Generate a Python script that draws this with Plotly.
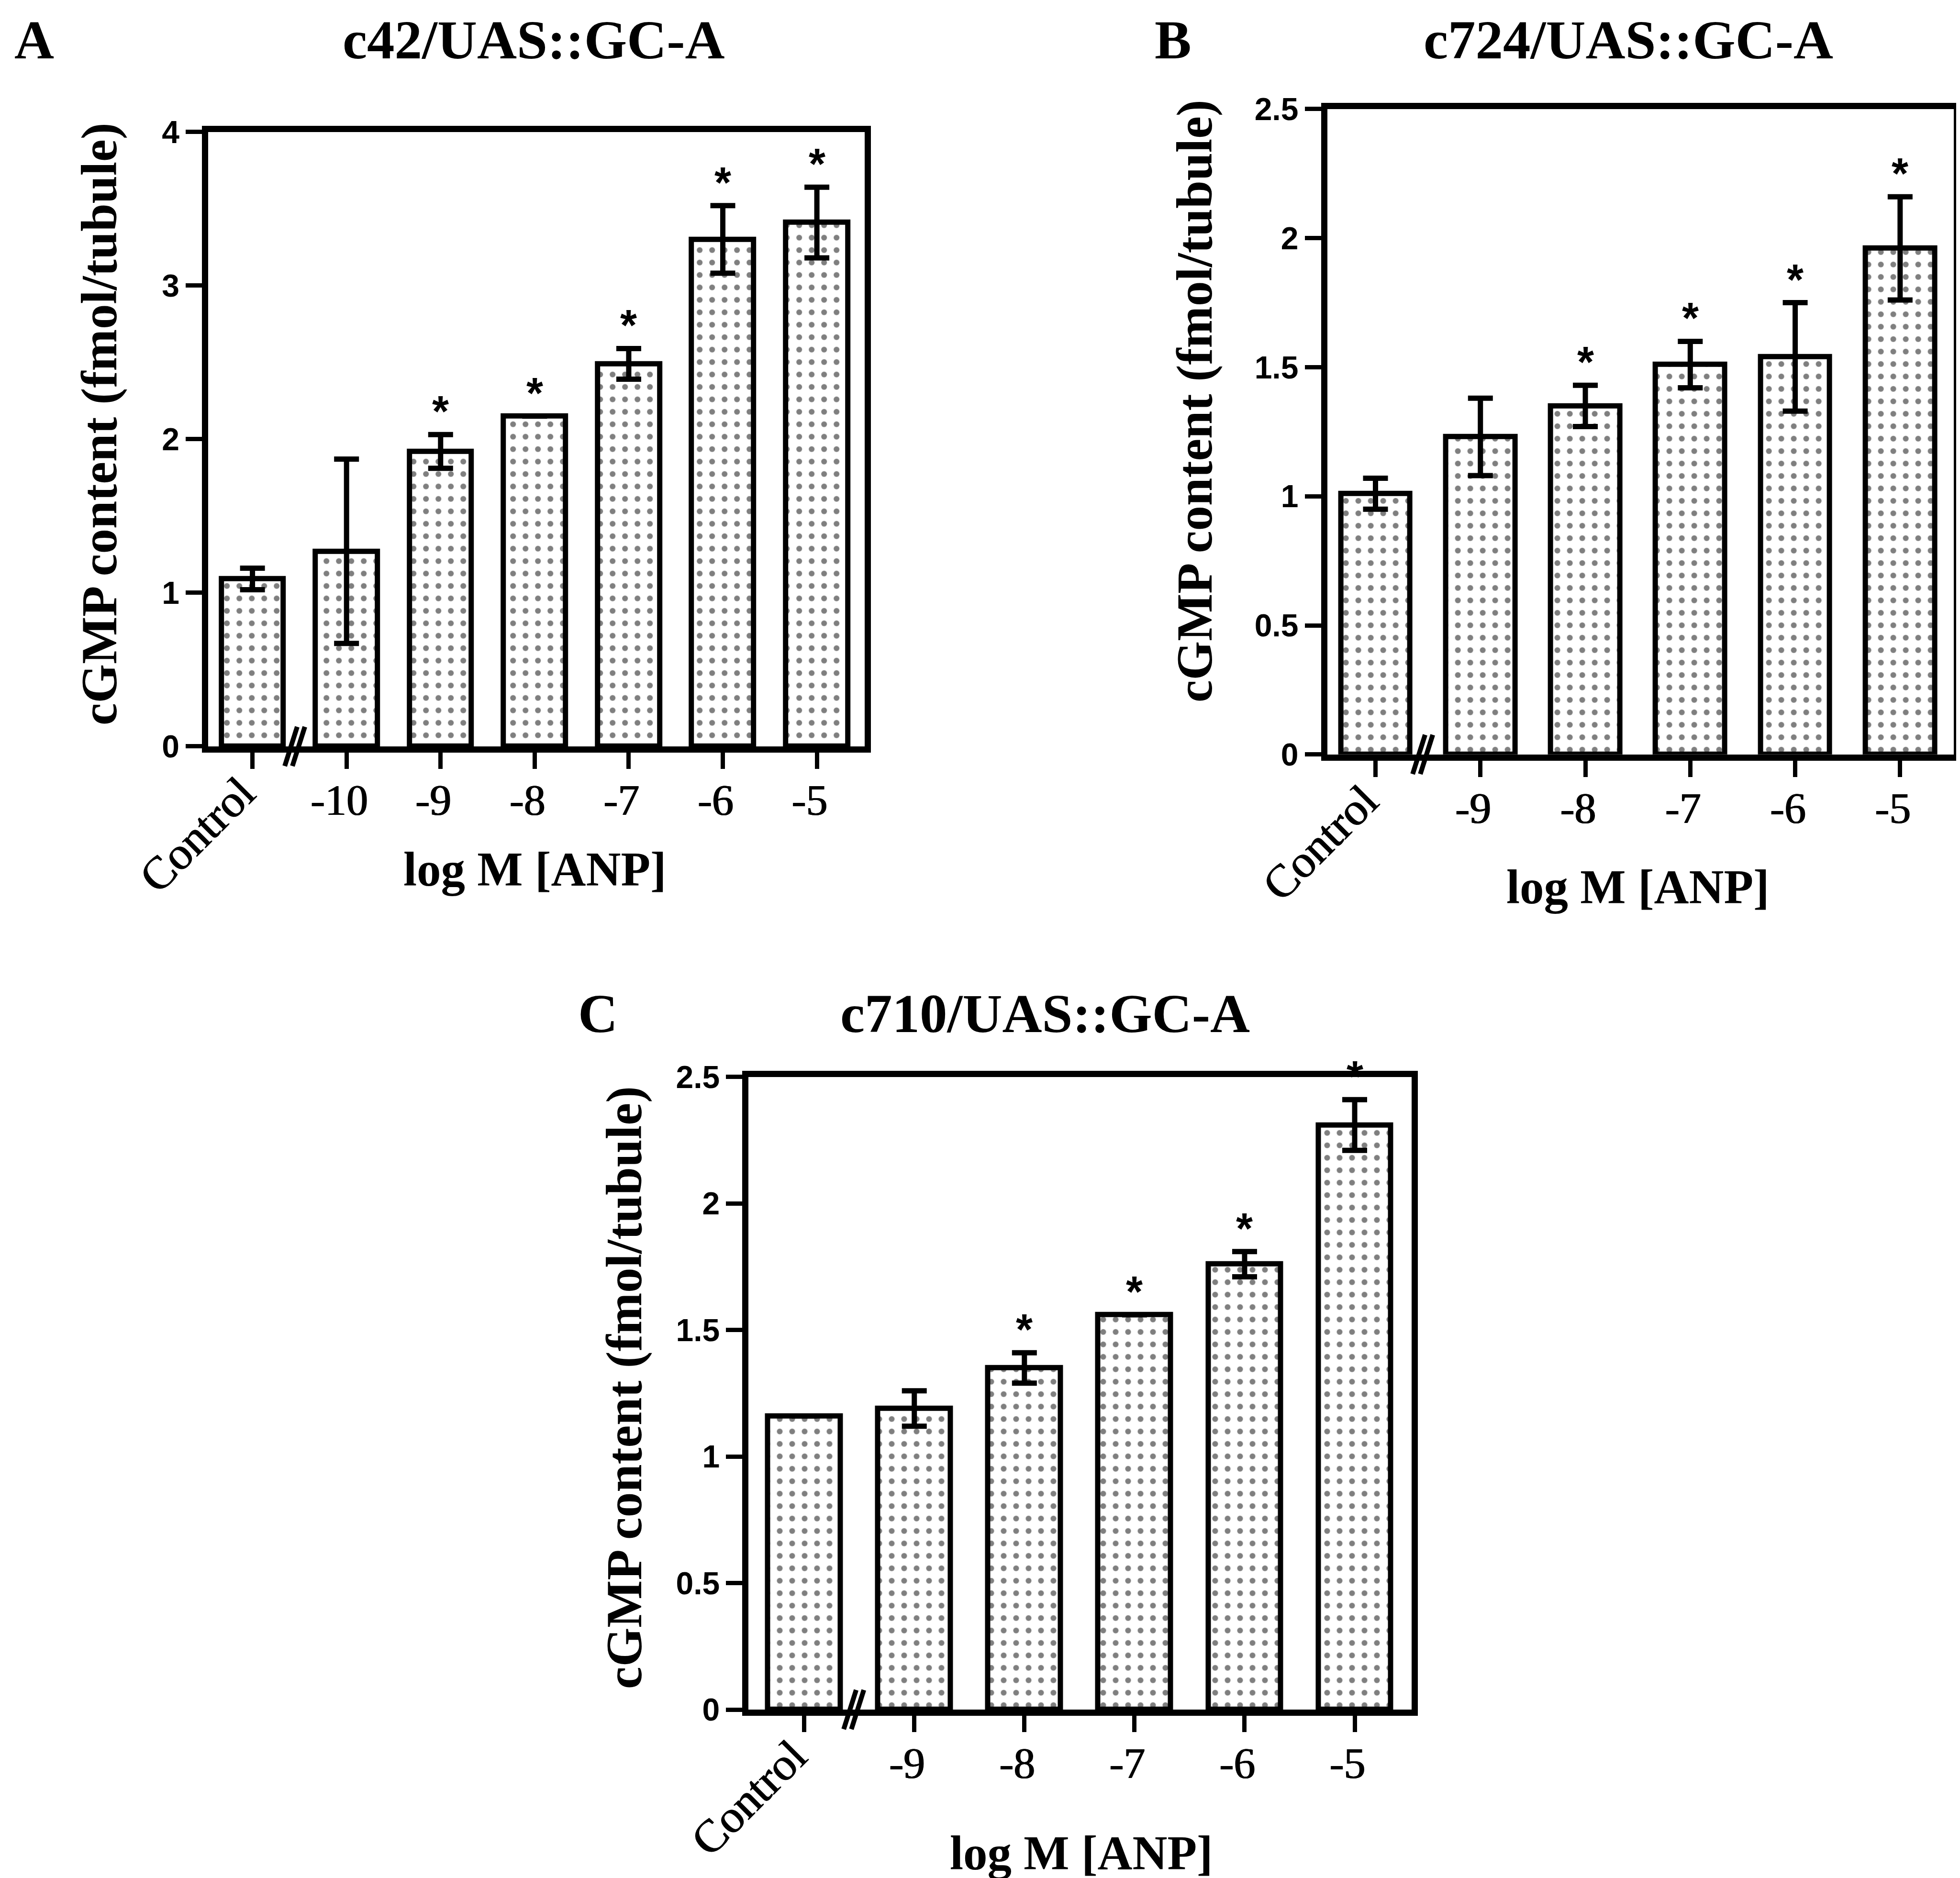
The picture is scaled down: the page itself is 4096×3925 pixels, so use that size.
import plotly.graph_objects as go

# ---------------- data ----------------
a_cats = ["Control", "-10", "-9", "-8", "-7", "-6", "-5"]
a_vals = [1.09, 1.27, 1.92, 2.15, 2.49, 3.30, 3.41]
a_errs = [0.07, 0.60, 0.11, 0.0, 0.10, 0.22, 0.23]
a_sig = [False, False, True, True, True, True, True]
a_yticks = [0, 1, 2, 3, 4]

b_cats = ["Control", "-9", "-8", "-7", "-6", "-5"]
b_vals = [1.01, 1.23, 1.35, 1.51, 1.54, 1.96]
b_errs = [0.06, 0.15, 0.08, 0.09, 0.21, 0.20]
b_sig = [False, False, True, True, True, True]

c_cats = ["Control", "-9", "-8", "-7", "-6", "-5"]
c_vals = [1.16, 1.19, 1.35, 1.56, 1.76, 2.31]
c_errs = [0.0, 0.07, 0.06, 0.0, 0.05, 0.10]
c_sig = [False, False, True, True, True, True]

bc_yticks = [0, 0.5, 1, 1.5, 2, 2.5]

x_title = "log M [ANP]"
y_title = "cGMP content (fmol/tubule)"

# ---------------- style ----------------
W, H = 4096, 3925
SERIF = "Liberation Serif"
SANS = "Liberation Sans"
LW = 13          # spine width
BAR_LW = 11
TITLE_SIZE = 115
XAXT_SIZE = 101
YAXT_SIZE = 105
XTICK_SIZE = 90
CTRL_SIZE = 96
YTICK_SIZE = 66
STAR_SIZE = 90
PAD = "\u2004"   # trailing space so the digits sit centred on the tick
HEAVY = "0.9px 0 0 #000, -0.9px 0 0 #000"

panels = [
    dict(letter="A", title="c42/UAS::GC-A", cats=a_cats, vals=a_vals, errs=a_errs, sig=a_sig,
         yticks=a_yticks, ymax=4,
         xdom=[0.1043, 0.4393], ydom=[0.6046, 0.9318], xr=[-0.47, 6.51],
         letter_xy=(0.0155, 0.9807), title_xy=(0.2705, 0.9807),
         xt_xy=(0.2709, 0.5392), yt_xy=(0.0487, 0.7764)),
    dict(letter="B", title="c724/UAS::GC-A", cats=b_cats, vals=b_vals, errs=b_errs, sig=b_sig,
         yticks=bc_yticks, ymax=2.5,
         xdom=[0.6752, 0.9948], ydom=[0.6003, 0.9440], xr=[-0.46, 5.51],
         letter_xy=(0.5966, 0.9807), title_xy=(0.8288, 0.9807),
         xt_xy=(0.8338, 0.5296), yt_xy=(0.6075, 0.7886)),
    dict(letter="C", title="c710/UAS::GC-A", cats=c_cats, vals=c_vals, errs=c_errs, sig=c_sig,
         yticks=bc_yticks, ymax=2.5,
         xdom=[0.3800, 0.7182], ydom=[0.0917, 0.4286], xr=[-0.505, 5.516],
         letter_xy=(0.3030, 0.4623), title_xy=(0.5313, 0.4623),
         xt_xy=(0.5497, 0.0154), yt_xy=(0.3165, 0.2633)),
]

fig = go.Figure()
annotations = []
shapes = []

for k, p in enumerate(panels):
    sfx = "" if k == 0 else str(k + 1)
    xs = list(range(len(p["cats"])))
    fig.add_trace(go.Bar(
        x=xs, y=p["vals"], width=0.66,
        xaxis="x" + sfx, yaxis="y" + sfx,
        marker=dict(color="white", line=dict(color="black", width=BAR_LW),
                    pattern=dict(shape=".", fgcolor="black", bgcolor="white",
                                 size=26, solidity=0.17)),
        error_y=dict(type="data", array=p["errs"], visible=True, color="black",
                     thickness=11, width=26),
        showlegend=False, hoverinfo="skip",
    ))
    ticktext = [""] + [c + PAD for c in p["cats"][1:]]
    fig.update_layout(**{
        "xaxis" + sfx: dict(domain=p["xdom"], range=p["xr"], anchor="y" + sfx,
                            showline=True, linewidth=LW, linecolor="black", mirror=True,
                            ticks="outside", ticklen=34, tickwidth=9, tickcolor="black",
                            tickvals=xs, ticktext=ticktext, automargin=False,
                            ticklabelstandoff=-12,
                            tickfont=dict(family=SERIF, size=XTICK_SIZE, color="black", shadow=HEAVY),
                            showgrid=False, zeroline=False, fixedrange=True),
        "yaxis" + sfx: dict(domain=p["ydom"], range=[0, p["ymax"]], anchor="x" + sfx,
                            showline=True, linewidth=LW, linecolor="black", mirror=True,
                            ticks="outside", ticklen=34, tickwidth=9, tickcolor="black",
                            tickvals=p["yticks"], automargin=False,
                            tickfont=dict(family=SANS, size=YTICK_SIZE, color="black", weight="bold"),
                            showgrid=False, zeroline=False, fixedrange=True),
    })
    xref, yref = "x" + sfx, "y" + sfx
    # rotated Control label
    annotations.append(dict(x=0, y=0, xref=xref, yref=yref, text=p["cats"][0],
                            textangle=-45, xanchor="right", yanchor="top",
                            xshift=28, yshift=-40, showarrow=False,
                            font=dict(family=SERIF, size=CTRL_SIZE, color="black", shadow=HEAVY)))
    # significance stars
    for i, (v, e, s) in enumerate(zip(p["vals"], p["errs"], p["sig"])):
        if s:
            annotations.append(dict(x=i, y=v + e, xref=xref, yref=yref, text="*",
                                    xanchor="center", yanchor="bottom", yshift=-4,
                                    showarrow=False,
                                    font=dict(family=SANS, size=STAR_SIZE, color="black", weight="bold")))
    # axis break marks "//" (not clipped: y in paper units)
    for dx in (-8, 8):
        shapes.append(dict(type="line", xref=xref, yref="paper", xsizemode="pixel", ysizemode="pixel",
                           xanchor=0.45, yanchor=p["ydom"][0], x0=dx - 13, x1=dx + 13, y0=-41, y1=41,
                           line=dict(color="black", width=10)))
    # panel letter, title, axis titles
    annotations.append(dict(x=p["letter_xy"][0], y=p["letter_xy"][1], xref="paper", yref="paper",
                            text="<b>%s</b>" % p["letter"], showarrow=False,
                            xanchor="center", yanchor="middle",
                            font=dict(family=SERIF, size=TITLE_SIZE, color="black")))
    annotations.append(dict(x=p["title_xy"][0], y=p["title_xy"][1], xref="paper", yref="paper",
                            text="<b>%s</b>" % p["title"], showarrow=False,
                            xanchor="center", yanchor="middle",
                            font=dict(family=SERIF, size=TITLE_SIZE, color="black")))
    annotations.append(dict(x=p["xt_xy"][0], y=p["xt_xy"][1], xref="paper", yref="paper",
                            text="<b>%s</b>" % x_title, showarrow=False,
                            xanchor="center", yanchor="middle",
                            font=dict(family=SERIF, size=XAXT_SIZE, color="black")))
    annotations.append(dict(x=p["yt_xy"][0], y=p["yt_xy"][1], xref="paper", yref="paper",
                            text="<b>%s</b>" % y_title, showarrow=False, textangle=-90,
                            xanchor="center", yanchor="middle",
                            font=dict(family=SERIF, size=YAXT_SIZE, color="black")))

fig.update_layout(width=W, height=H, margin=dict(l=0, r=0, t=0, b=0, autoexpand=False),
                  paper_bgcolor="white", plot_bgcolor="white", showlegend=False,
                  annotations=annotations, shapes=shapes, bargap=0)

fig.write_html("out.html")
